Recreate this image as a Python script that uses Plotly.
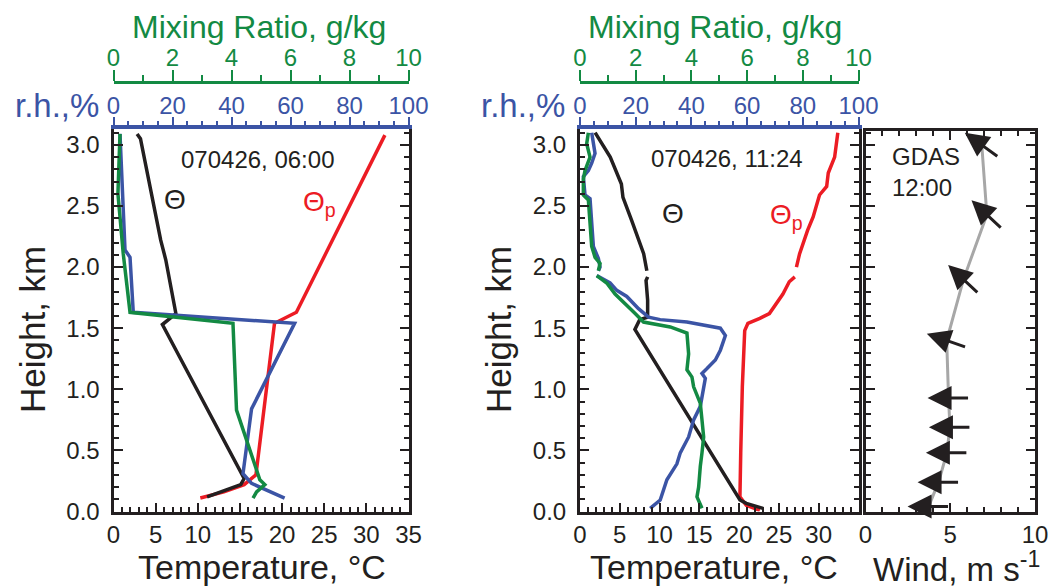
import math
import plotly.graph_objects as go

# ---------------- data: sounding 070426 06:00 ----------------
h06_theta = [3.09, 3.05, 2.22, 2.06, 1.62, 1.53, 0.27, 0.22, 0.12]
t06_theta = [2.8, 3.2, 5.6, 6.2, 7.4, 5.8, 15.5, 15.1, 11.1]

h06_thetap = [3.08, 1.63, 1.54, 0.30, 0.22, 0.16, 0.11]
t06_thetap = [32.2, 21.7, 19.1, 16.9, 15.5, 13.1, 10.3]

h06_rh = [3.09, 2.14, 2.08, 1.63, 1.54, 0.84, 0.31, 0.23, 0.11]
rh06 = [2.2, 3.9, 5.6, 6.7, 61.4, 46.8, 43.9, 46.8, 58.0]

h06_mr = [3.09, 2.60, 2.11, 1.63, 1.54, 0.83, 0.26, 0.22, 0.16, 0.11]
mr06 = [0.22, 0.15, 0.33, 0.56, 4.05, 4.17, 4.96, 5.13, 4.85, 4.73]

# ---------------- data: sounding 070426 11:24 ----------------
h1124_theta = [3.10, 2.90, 2.68, 2.57, 2.38, 2.19, 2.11, 1.97, None,
               1.92, 1.89, 1.73, 1.59, 1.57, 1.49, 0.094, 0.067, 0.026]
t1124_theta = [1.9, 3.8, 5.2, 5.4, 6.5, 7.5, 8.0, 8.4, None,
               8.5, 8.3, 8.5, 8.5, 7.5, 6.9, 20.1, 20.9, 23.0]

h1124_thetap = [3.10, 2.98, 2.90, 2.77, 2.66, 2.59, 2.49, 2.41, 2.30, 2.18, 2.11, 2.00, None,
                1.92, 1.88, 1.78, 1.62, 1.58, 1.54, 1.48, 1.02, 0.48, 0.12, 0.05, 0.01]
t1124_thetap = [32.4, 32.2, 32.0, 31.2, 31.0, 30.1, 29.7, 29.3, 28.6, 28.0, 27.6, 27.2, None,
                27.0, 26.3, 25.5, 23.8, 22.6, 21.1, 20.7, 20.4, 20.2, 20.1, 20.9, 22.6]

h1124_rh = [3.10, 3.01, 2.93, 2.85, 2.79, 2.74, 2.59, 2.56, 2.38, 2.17, 2.07, 2.00, 1.97, None,
            1.93, 1.87, 1.81, 1.76, 1.66, 1.59, 1.57, 1.55, 1.50, 1.44, 1.32, 1.24, 1.17,
            1.13, 1.09, 1.02, 0.94, 0.86, 0.75, 0.61, 0.48, 0.39, 0.26, 0.094, 0.026]
rh1124 = [4.2, 4.8, 5.4, 4.2, 3.0, 1.2, 1.8, 3.6, 4.2, 4.8, 6.6, 7.2, 6.6, None,
          6.0, 10.8, 13.2, 16.8, 21.0, 24.6, 28.8, 38.4, 50.4, 52.2, 50.4, 48.6, 45.6,
          43.8, 45.0, 44.4, 43.8, 43.2, 40.8, 39.0, 36.0, 34.8, 31.2, 28.8, 25.2]

h1124_mr = [3.10, 3.01, 2.90, 2.79, 2.72, 2.59, 2.55, 2.30, 2.17, 2.08, 2.03, 1.97, None,
            1.93, 1.87, 1.78, 1.69, 1.62, 1.55, 1.51, 1.46, 1.29, 1.16, 1.10, 1.02,
            0.885, 0.75, 0.61, 0.48, 0.37, 0.20, 0.12, 0.026]
mr1124 = [0.30, 0.24, 0.36, 0.18, 0.12, 0.12, 0.30, 0.36, 0.42, 0.54, 0.72, 0.66, None,
          0.60, 0.96, 1.26, 1.68, 1.98, 2.28, 3.24, 3.84, 3.90, 3.84, 4.02, 4.08,
          4.32, 4.38, 4.44, 4.38, 4.32, 4.26, 4.20, 4.38]

# ---------------- data: GDAS wind, 12:00 ----------------
wind_h = [0.04, 0.24, 0.48, 0.69, 0.93, 1.40, 1.90, 2.43, 3.00]
wind_speed = [3.72, 4.31, 4.80, 4.98, 4.90, 4.79, 5.78, 7.16, 6.86]
wind_dir = [90, 90, 90, 90, 90, 109, 133, 133, 126]   # degrees, direction wind blows from

# ---------------- styling ----------------
W, H = 1048, 587
FONT = "Arial, Liberation Sans, sans-serif"
BLACK = "#231f20"
RED = "#ec1c24"
BLUE = "#3b54a5"
GREEN = "#138a43"
GRAY = "#a7a7a7"
LW = 3.5


def fx(px):
    return px / W


def fy(py):
    return 1 - py / H


P1 = [fx(113.5), fx(408.5)]
P2 = [fx(580), fx(858.5)]
P3 = [fx(865.5), fx(1035)]
YD = [fy(511.5), fy(129)]
YD3 = [fy(511.5), fy(131)]
MR_POS = fy(81.5)

fig = go.Figure()


def line(x, y, color, xa, ya, width=LW):
    fig.add_trace(go.Scatter(x=x, y=y, mode="lines", xaxis=xa, yaxis=ya,
                             line=dict(color=color, width=width),
                             connectgaps=False, showlegend=False,
                             hoverinfo="skip"))


# panel 1
line(mr06, h06_mr, GREEN, "x3", "y")
line(rh06, h06_rh, BLUE, "x2", "y")
line(t06_thetap, h06_thetap, RED, "x", "y")
line(t06_theta, h06_theta, BLACK, "x", "y")
# panel 2
line(mr1124, h1124_mr, GREEN, "x6", "y2")
line(rh1124, h1124_rh, BLUE, "x5", "y2")
line(t1124_thetap, h1124_thetap, RED, "x4", "y2")
line(t1124_theta, h1124_theta, BLACK, "x4", "y2")
# panel 3
line(wind_speed, wind_h, GRAY, "x7", "y3", width=3)

COMMON = dict(showgrid=False, zeroline=False, fixedrange=True, automargin=False,
              ticklabeloverflow="allow")


def temp_axis(domain, anchor, labels_to):
    vals = list(range(0, 36, 5))
    text = [str(v) if v <= labels_to else "" for v in vals]
    return dict(domain=domain, anchor=anchor, range=[0, 35], side="bottom",
                showline=True, linecolor=BLACK, linewidth=3, mirror=False,
                ticks="inside", ticklen=9, tickwidth=2, tickcolor=BLACK,
                tickvals=vals, ticktext=text,
                minor=dict(ticks="inside", ticklen=5, tickwidth=1.5,
                           tickcolor=BLACK, dtick=1, tick0=0, showgrid=False),
                tickfont=dict(size=24, color=BLACK, family=FONT),
                ticklabelstandoff=0, **COMMON)


def rh_axis(domain, overlay, anchor):
    return dict(domain=domain, overlaying=overlay, anchor=anchor, side="top",
                range=[0, 100], showline=True, linecolor=BLUE, linewidth=3.5,
                ticks="outside", ticklen=8, tickwidth=2, tickcolor=BLUE,
                dtick=20, tick0=0,
                minor=dict(ticks="outside", ticklen=4, tickwidth=2,
                           tickcolor=BLUE, dtick=5, tick0=0, showgrid=False),
                tickfont=dict(size=24, color=BLUE, family=FONT),
                ticklabelstandoff=-6, **COMMON)


def mr_axis(domain, overlay):
    return dict(domain=domain, overlaying=overlay, anchor="free",
                position=MR_POS, side="top", range=[0, 10],
                showline=True, linecolor=GREEN, linewidth=3,
                ticks="outside", ticklen=11, tickwidth=2, tickcolor=GREEN,
                dtick=2, tick0=0,
                minor=dict(ticks="outside", ticklen=6, tickwidth=2,
                           tickcolor=GREEN, dtick=1, tick0=0, showgrid=False),
                tickfont=dict(size=24, color=GREEN, family=FONT),
                ticklabelstandoff=-6, **COMMON)


def height_axis(domain, anchor, top, labels=True):
    return dict(domain=domain, anchor=anchor, range=[0, top],
                showline=True, linecolor=BLACK, linewidth=3, mirror="ticks",
                ticks="inside", ticklen=9, tickwidth=2, tickcolor=BLACK,
                dtick=0.5, tick0=0, tickformat=".1f",
                minor=dict(ticks="inside", ticklen=5, tickwidth=2,
                           tickcolor=BLACK, dtick=0.1, tick0=0, showgrid=False),
                showticklabels=labels,
                tickfont=dict(size=24, color=BLACK, family=FONT),
                ticklabelstandoff=6, **COMMON)


fig.update_layout(
    width=W, height=H,
    margin=dict(l=0, r=0, t=0, b=0, pad=0, autoexpand=False),
    paper_bgcolor="white", plot_bgcolor="white",
    font=dict(family=FONT, color=BLACK),
    showlegend=False,
    xaxis=temp_axis(P1, "y", 35),
    xaxis2=rh_axis(P1, "x", "y"),
    xaxis3=mr_axis(P1, "x"),
    yaxis=height_axis(YD, "x", 3.13),
    xaxis4=temp_axis(P2, "y2", 30),
    xaxis5=rh_axis(P2, "x4", "y2"),
    xaxis6=mr_axis(P2, "x4"),
    yaxis2=height_axis(YD, "x4", 3.13),
    xaxis7=dict(domain=P3, anchor="y3", range=[0, 10], side="bottom",
                showline=True, linecolor=BLACK, linewidth=3, mirror="ticks",
                ticks="inside", ticklen=9, tickwidth=2, tickcolor=BLACK,
                dtick=5, tick0=0,
                minor=dict(ticks="inside", ticklen=5, tickwidth=2,
                           tickcolor=BLACK, dtick=1, tick0=0, showgrid=False),
                tickfont=dict(size=24, color=BLACK, family=FONT),
                ticklabelstandoff=0, **COMMON),
    yaxis3=height_axis(YD3, "x7", 3.115, labels=False),
)

ann = []


def label(text, x, y, size, color=BLACK, angle=0, xanchor="center", xref="paper", yref="paper"):
    ann.append(dict(text=text, x=x, y=y, xref=xref, yref=yref, showarrow=False,
                    xanchor=xanchor, yanchor="middle", textangle=angle,
                    font=dict(size=size, color=color, family=FONT)))


# axis titles
label("Mixing Ratio, g/kg", fx(259), fy(27), 32, GREEN)
label("Mixing Ratio, g/kg", fx(715), fy(27), 32, GREEN)
label("r.h.,%", fx(101), fy(105), 33, BLUE, xanchor="right")
label("r.h.,%", fx(567), fy(105), 33, BLUE, xanchor="right")
label("Height, km", fx(32), fy(330), 35, angle=-90)
label("Height, km", fx(498), fy(330), 35, angle=-90)
label("Temperature, °C", fx(262), fy(567), 34)
label("Temperature, °C", fx(714), fy(567), 34)
label("Wind, m s<sup>-1</sup>", fx(956), fy(567), 33)

# in-panel text
label("070426, 06:00", 17.1, 2.88, 24, xref="x", yref="y")
label("Θ", 5.7, 2.55, 28, xanchor="left", xref="x", yref="y")
label("Θ<sub>p</sub>", 22.3, 2.52, 28, RED, xanchor="left", xref="x", yref="y")
label("070426, 11:24", 18.5, 2.89, 24, xref="x4", yref="y2")
label("Θ", 10.0, 2.44, 28, xanchor="left", xref="x4", yref="y2")
label("Θ<sub>p</sub>", 23.6, 2.41, 28, RED, xanchor="left", xref="x4", yref="y2")
label("GDAS", 1.45, 2.91, 24, xanchor="left", xref="x7", yref="y3")
label("12:00", 1.45, 2.65, 24, xanchor="left", xref="x7", yref="y3")

# wind direction arrows centred on the speed profile
L = 42
for s, h, d in zip(wind_speed, wind_h, wind_dir):
    b = math.radians(d + 180)
    ux, uy = math.sin(b), -math.cos(b)
    ann.append(dict(x=s, y=h, xref="x7", yref="y3", text="", showarrow=True,
                    ax=-L * ux, ay=-L * uy, axref="pixel", ayref="pixel",
                    xshift=L / 2 * ux, yshift=-L / 2 * uy,
                    arrowhead=2, arrowsize=1.6, arrowwidth=3,
                    arrowcolor=BLACK, standoff=0, startstandoff=0))

fig.update_layout(annotations=ann)

fig.write_html("out.html")
